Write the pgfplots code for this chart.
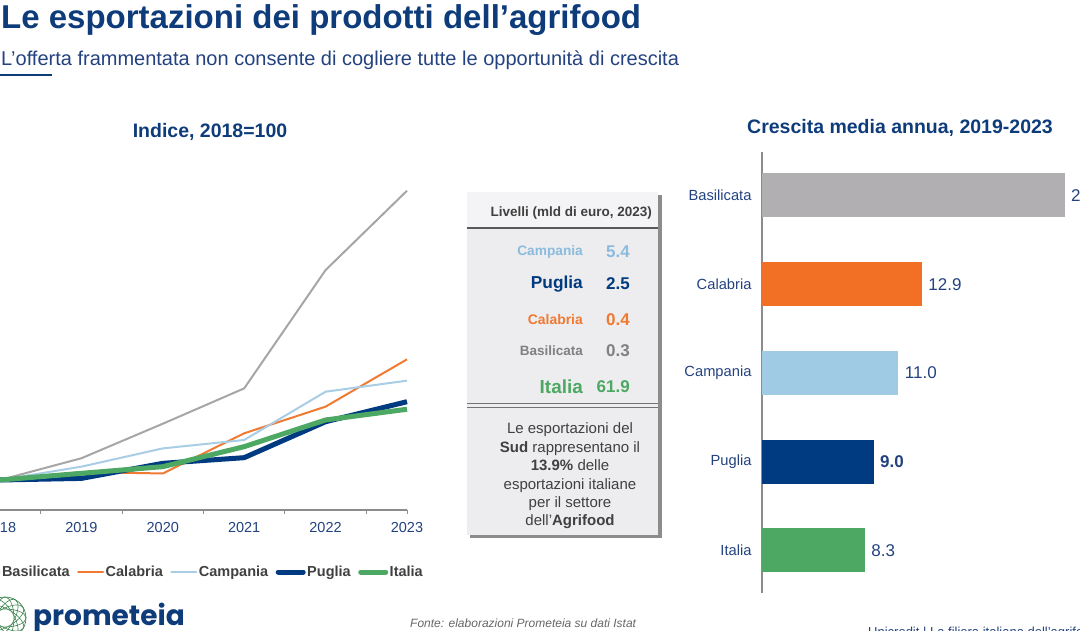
\documentclass[border=0pt]{standalone}
\usepackage{pgfplots}
\pgfplotsset{compat=1.18}
\usepackage{fontspec}
\setmainfont{Liberation Sans}
\newfontfamily\poppins{Poppins}
\newcommand\fs[2]{\fontsize{#1}{#2}\selectfont}
\definecolor{navy}{HTML}{0E3B7A}
\definecolor{tickblue}{HTML}{23427F}
\definecolor{axisgray}{HTML}{8C8C8C}
\definecolor{basline}{HTML}{A6A6A6}
\definecolor{basbar}{HTML}{B1AFB2}
\definecolor{calline}{HTML}{F07A32}
\definecolor{calbar}{HTML}{F26F26}
\definecolor{camline}{HTML}{A8CDE5}
\definecolor{camtext}{HTML}{8BBBDD}
\definecolor{cambar}{HTML}{9FCBE5}
\definecolor{pug}{HTML}{003A80}
\definecolor{ita}{HTML}{4CA862}
\definecolor{txtgray}{HTML}{404040}
\definecolor{boxfill}{HTML}{EDEDEF}
\definecolor{boxhead}{HTML}{F4F4F6}
\begin{document}
\begin{tikzpicture}[x=1pt,y=1pt]
\begin{scope}
\clip (0,0) rectangle (1080,630);
% titles
\node[anchor=base west, inner sep=0, text=navy, font=\bfseries\fs{33}{36}] at (1,601) {Le esportazioni dei prodotti dell’agrifood};
\node[anchor=base west, inner sep=0, text=tickblue, font=\fs{20}{24}] at (1,564) {L’offerta frammentata non consente di cogliere tutte le opportunità di crescita};
\draw[navy, line width=2.5pt] (0,555) -- (52,555);
\node[text=navy, font=\bfseries\fs{19.5}{22}] at (210,498) {Indice, 2018=100};
\node[text=navy, font=\bfseries\fs{19.5}{22}] at (900,502) {Crescita media annua, 2019-2023};

% left line chart
\begin{axis}[at={(0pt,120pt)}, anchor=south west, scale only axis,
  width=407pt, height=330pt,
  xmin=2018, xmax=2023, ymin=79.31, ymax=306.9,
  axis x line*=bottom, axis y line=none,
  x axis line style={axisgray, line width=1.2pt},
  xtick={2018,...,2023}, major tick length=0pt,
  minor xtick={2018.5,2019.5,2020.5,2021.5,2022.5,2023}, minor tick length=4pt,
  tick align=outside, minor tick style={axisgray, line width=1pt},
  xticklabel style={font=\fs{14.5}{16}, text=tickblue, yshift=-9pt},
  /pgf/number format/1000 sep={},
  /pgf/number format/assume math mode=true,
  clip=false,
  legend columns=5,
  legend image code/.code={\draw[#1, line cap=round] (0pt,0pt) -- (25pt,0pt);},
  legend style={at={(axis description cs:-0.0651,-0.1879)}, anchor=west,
    draw=none, fill=none, inner sep=0pt, outer sep=0pt,
    /tikz/every even column/.append style={column sep=6pt},
    nodes={inner sep=1.5pt, font=\bfseries\fs{14.5}{16}, text=txtgray}},
]
\addplot[basline, line width=2pt, mark=none] coordinates {(2018,100) (2019,115) (2020,138.8) (2021,163.2) (2022,244.8) (2023,299.5)};
\addlegendentry{Basilicata}
\addplot[calline, line width=2pt, mark=none] coordinates {(2018,100) (2019,105.5) (2020,104.5) (2021,132.2) (2022,150.6) (2023,183.2)};
\addlegendentry{Calabria}
\addplot[camline, line width=2pt, mark=none] coordinates {(2018,100) (2019,109.2) (2020,121.8) (2021,127.6) (2022,160.9) (2023,168.5)};
\addlegendentry{Campania}
\addplot[pug, line width=5pt, mark=none] coordinates {(2018,100) (2019,101.1) (2020,111.5) (2021,115.4) (2022,140.2) (2023,154)};
\addlegendentry{Puglia}
\addplot[ita, line width=5pt, mark=none] coordinates {(2018,100) (2019,104.6) (2020,109.2) (2021,123) (2022,141.4) (2023,148.8)};
\addlegendentry{Italia}
\end{axis}

% middle box
\fill[black!45] (470,92) rectangle (662,435);
\fill[boxfill] (467,95) rectangle (658,438);
\fill[boxhead] (467,403) rectangle (658,438);
\draw[black!65, line width=1.8pt] (467,402) -- (658,402);
\draw[black!55, line width=1pt] (467,226) -- (658,226);
\draw[black!55, line width=1pt] (467,222) -- (658,222);
\node[anchor=east, inner sep=0, text=txtgray, font=\bfseries\fs{13.5}{16}] at (652,417) {Livelli (mld di euro, 2023)};
\node[anchor=east, inner sep=0, text=camtext, font=\bfseries\fs{13.7}{16}] at (583,378) {Campania};
\node[anchor=east, inner sep=0, text=pug, font=\bfseries\fs{17.3}{20}] at (583,346) {Puglia};
\node[anchor=east, inner sep=0, text=calline, font=\bfseries\fs{13.9}{16}] at (583,310) {Calabria};
\node[anchor=east, inner sep=0, text=black!50, font=\bfseries\fs{13.5}{16}] at (583,279) {Basilicata};
\node[anchor=east, inner sep=0, text=ita, font=\bfseries\fs{18.9}{22}] at (583,243) {Italia};
\node[anchor=east, inner sep=0, text=camtext, font=\bfseries\fs{17}{20}] at (630,378) {5.4};
\node[anchor=east, inner sep=0, text=pug, font=\bfseries\fs{17}{20}] at (630,346) {2.5};
\node[anchor=east, inner sep=0, text=calline, font=\bfseries\fs{17}{20}] at (630,310) {0.4};
\node[anchor=east, inner sep=0, text=black!50, font=\bfseries\fs{17}{20}] at (630,279) {0.3};
\node[anchor=east, inner sep=0, text=ita, font=\bfseries\fs{17}{20}] at (630,243) {61.9};
\node[align=center, inner sep=0, text=txtgray, font=\fs{15}{18.4}] at (570,154) {Le esportazioni del\\\textbf{Sud} rappresentano il\\\textbf{13.9\%} delle\\esportazioni italiane\\per il settore\\dell'\textbf{Agrifood}};

% right bar chart
\begin{axis}[at={(762pt,37pt)}, anchor=south west, scale only axis,
  width=318pt, height=441pt,
  xmin=0, xmax=25.65, ymin=-0.48, ymax=4.49,
  xbar, bar width=44pt, bar shift=0pt,
  axis y line*=left, axis x line=none,
  y axis line style={axisgray, line width=1.2pt},
  ytick={0,...,4}, yticklabels={Italia,Puglia,Campania,Calabria,Basilicata},
  major tick length=0pt,
  yticklabel style={font=\fs{14.7}{16}, text=tickblue, xshift=-7pt},
  clip=false,
  /pgf/number format/assume math mode=true,
  nodes near coords,
  nodes near coords style={font=\fs{17}{20}, text=tickblue, anchor=west, xshift=3pt,
    /pgf/number format/fixed, /pgf/number format/fixed zerofill, /pgf/number format/precision=1},
]
\addplot[fill=basbar, draw=none] coordinates {(24.4,4)};
\addplot[fill=calbar, draw=none] coordinates {(12.9,3)};
\addplot[fill=cambar, draw=none] coordinates {(11.0,2)};
\addplot[fill=pug, draw=none, every node near coord/.append style={font=\bfseries\fs{17}{20}}] coordinates {(9.0,1)};
\addplot[fill=ita, draw=none] coordinates {(8.3,0)};
\end{axis}

% footer
\begin{scope}
\clip (-30,-10) rectangle (27,40);
\foreach \a in {0,30,60,90,120,150} {
  \draw[ita!80!black, line width=0.6pt, rotate around={\a:(5,12)}] (5,12) ellipse (21 and 9);
}
\draw[ita!80!black, line width=0.7pt] (5,12) circle (21);
\end{scope}
\node[anchor=base west, inner sep=0, text=navy, font=\poppins\bfseries\fs{28}{30}] at (33,5) {prometeia};
\node[anchor=base west, inner sep=0, text=black!60, font=\itshape\fs{12}{14}] at (410,3) {Fonte: elaborazioni Prometeia su dati Istat};
\node[anchor=base west, inner sep=0, text=tickblue, font=\fs{13}{15}] at (868,-6) {Unicredit | La filiera italiana dell’agrifood};
\end{scope}
\pgfresetboundingbox
\useasboundingbox (0,0) rectangle (1080,630);
\end{tikzpicture}
\end{document}
